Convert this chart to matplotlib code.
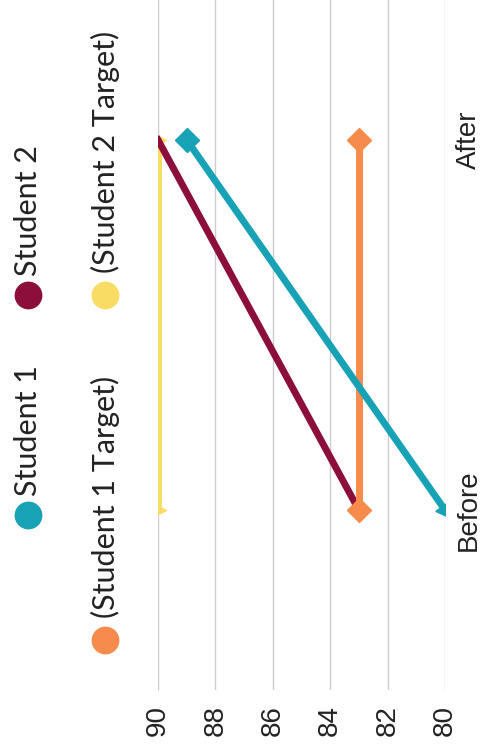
import matplotlib
matplotlib.use("Agg")
import matplotlib.pyplot as plt
from matplotlib.lines import Line2D

# categories and series values
stages = ["Before", "After"]
student1 = [80, 89]
student2 = [83, 90]
target1 = [83, 83]
target2 = [90, 90]
value_ticks = [90, 88, 86, 84, 82, 80]

teal = "#17a3b5"
maroon = "#8c0f3b"
orange = "#f68b4c"
yellow = "#f8dc64"

W, H = 482, 756
fig = plt.figure(figsize=(W / 100, H / 100), dpi=100)
ax = fig.add_axes([158 / W, (H - 690) / H, (445 - 158) / W, 690 / H])

pos = [0, 1]  # Before, After

ax.plot(target2, pos, color=yellow, lw=5, marker=">", ms=12, zorder=3)
ax.plot(student2, pos, color=maroon, lw=5, zorder=4)
ax.plot(target1, pos, color=orange, lw=5, marker="D", ms=12, zorder=5)
ax.plot(student1, pos, color=teal, lw=5, zorder=6)
ax.plot(student1[1], pos[1], color=teal, marker="D", ms=12, zorder=6)
ax.plot(student1[0], pos[0], color=teal, marker=(3, 0, -145), ms=14, zorder=6)

ax.set_xlim(90, 80)
ax.set_ylim(-0.486, 1.378)
ax.set_xticks(value_ticks)
ax.set_xticklabels([str(v) for v in value_ticks], rotation=90,
                   fontsize=20, family="Liberation Sans", color="#222222")
ax.set_yticks(pos)
ax.set_yticklabels(stages, rotation=90, va="center",
                   fontsize=20, family="Liberation Sans", color="#222222")
ax.yaxis.tick_right()
ax.tick_params(axis="x", length=0, pad=11)
ax.tick_params(axis="y", length=0, pad=8)
ax.grid(axis="x", color="#cccccc", lw=1)
ax.set_axisbelow(True)
for s in ax.spines.values():
    s.set_visible(False)

# legend drawn sideways
legend_items = [
    ("Student 1", teal, 28, 515, 496),
    ("Student 2", maroon, 28, 295, 276),
    ("(Student 1 Target)", orange, 105, 640, 618),
    ("(Student 2 Target)", yellow, 105, 295, 273),
]
for label, c, x, y, ty in legend_items:
    fig.add_artist(Line2D([x / W], [1 - y / H], marker="o", ms=19, color=c,
                          lw=0, transform=fig.transFigure))
    fig.text(x / W, 1 - ty / H, label, rotation=90, ha="center",
             va="bottom", fontsize=22, family="Lato", color="#222222")

fig.savefig("out.png", dpi=100)
